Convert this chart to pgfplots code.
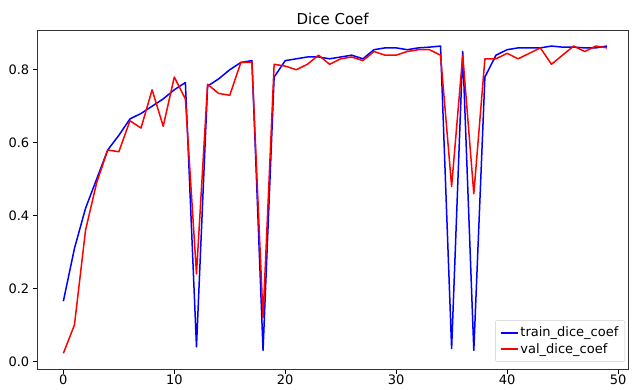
\documentclass[border=0pt]{standalone}
\usepackage{pgfplots}
\pgfplotsset{compat=1.18}
\usepackage{fontspec}
\setmainfont{DejaVu Sans}
\begin{document}
\begin{tikzpicture}
\useasboundingbox (-37.3pt,-20pt) rectangle (594.7pt,369pt);
\begin{axis}[
  scale only axis,
  width=590.7pt, height=339pt,
  xmin=-2.35, xmax=50.9,
  ymin=-0.021, ymax=0.909,
  xtick={0,10,20,30,40,50},
  ytick={0,0.2,0.4,0.6,0.8},
  yticklabel style={/pgf/number format/.cd,fixed,fixed zerofill,precision=1},
  /pgf/number format/assume math mode=true,
  tick align=outside,
  tick pos=left,
  major tick length=4.5pt,
  tick style={black, line width=0.8pt},
  axis line style={black!80, line width=0.8pt},
  ticklabel style={font=\fontsize{13}{15}\selectfont},
  xticklabel style={yshift=2pt},
  title={Dice Coef},
  title style={font=\fontsize{15}{17}\selectfont, yshift=-4pt},
  legend style={font=\fontsize{13}{15}\selectfont, draw=black!20, rounded corners=2pt, row sep=1pt, inner sep=4.5pt, at={(0.995,0.022)}, anchor=south east},
  legend image post style={line width=1.5pt},
  legend cell align=left,
  every axis plot/.append style={line width=1.5pt},
]
\addplot[blue, line join=round] coordinates {
(0,0.165)(1,0.31)(2,0.42)(3,0.50)(4,0.58)(5,0.62)(6,0.665)(7,0.68)(8,0.70)(9,0.72)
(10,0.745)(11,0.765)(12,0.04)(13,0.755)(14,0.775)(15,0.80)(16,0.82)(17,0.825)(18,0.03)(19,0.78)
(20,0.825)(21,0.83)(22,0.835)(23,0.835)(24,0.83)(25,0.835)(26,0.84)(27,0.83)(28,0.855)(29,0.86)
(30,0.86)(31,0.855)(32,0.86)(33,0.862)(34,0.865)(35,0.035)(36,0.85)(37,0.03)(38,0.78)(39,0.84)
(40,0.855)(41,0.86)(42,0.86)(43,0.86)(44,0.865)(45,0.862)(46,0.862)(47,0.86)(48,0.86)(49,0.865)
};
\addlegendentry{train\_dice\_coef}
\addplot[red, line join=round] coordinates {
(0,0.022)(1,0.10)(2,0.36)(3,0.49)(4,0.58)(5,0.575)(6,0.66)(7,0.64)(8,0.745)(9,0.645)
(10,0.78)(11,0.72)(12,0.24)(13,0.76)(14,0.735)(15,0.73)(16,0.82)(17,0.82)(18,0.12)(19,0.815)
(20,0.81)(21,0.80)(22,0.815)(23,0.84)(24,0.815)(25,0.83)(26,0.835)(27,0.825)(28,0.85)(29,0.84)
(30,0.84)(31,0.85)(32,0.855)(33,0.855)(34,0.84)(35,0.48)(36,0.84)(37,0.46)(38,0.83)(39,0.83)
(40,0.845)(41,0.83)(42,0.845)(43,0.86)(44,0.815)(45,0.84)(46,0.865)(47,0.85)(48,0.865)(49,0.86)
};
\addlegendentry{val\_dice\_coef}
\end{axis}
\end{tikzpicture}
\end{document}
